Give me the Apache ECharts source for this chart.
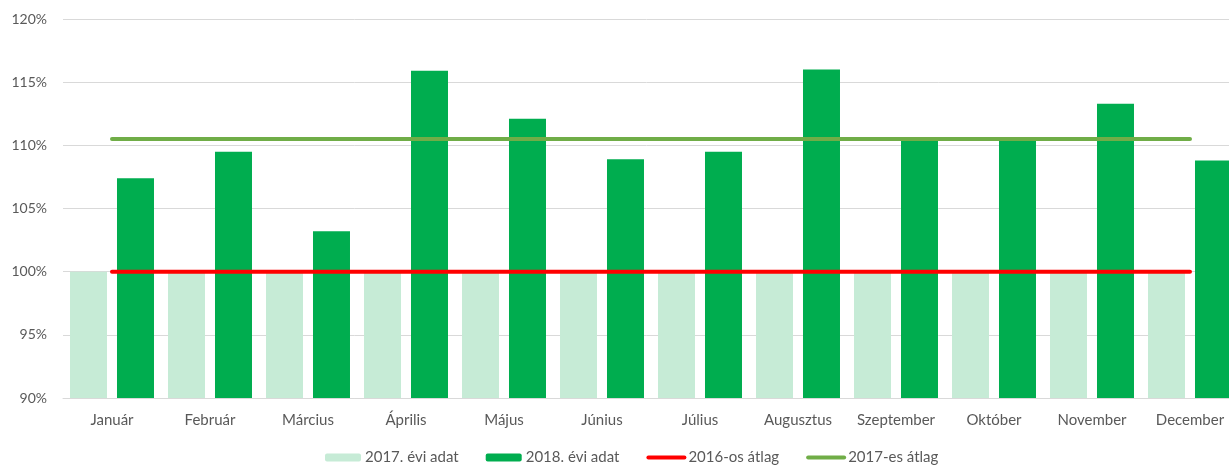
<!DOCTYPE html>
<html>
<head>
<meta charset="utf-8">
<script src="https://cdn.jsdelivr.net/npm/echarts@6/dist/echarts.min.js"></script>
<style>
  html, body { margin: 0; padding: 0; background: #fff; }
  #chart { width: 1229px; height: 465px; }
</style>
</head>
<body>
<div id="chart"></div>
<script>
const months = ['Január', 'Február', 'Március', 'Április', 'Május', 'Június',
  'Július', 'Augusztus', 'Szeptember', 'Október', 'November', 'December'];
const data2017 = [100, 100, 100, 100, 100, 100, 100, 100, 100, 100, 100, 100];
const data2018 = [107.4, 109.5, 103.2, 115.9, 112.1, 108.9, 109.5, 116.0, 110.4, 110.4, 113.3, 108.8];
const avg2016 = [100, 100, 100, 100, 100, 100, 100, 100, 100, 100, 100, 100];
const avg2017 = [110.5, 110.5, 110.5, 110.5, 110.5, 110.5, 110.5, 110.5, 110.5, 110.5, 110.5, 110.5];

const font = 'Lato, "Noto Sans", sans-serif';
const myChart = echarts.init(document.getElementById('chart'));
const option = {
  animation: false,
  textStyle: { fontFamily: font },
  grid: {
    left: 63,
    right: -10,
    top: 19,
    bottom: 67,
    outerBoundsMode: 'none'
  },
  legend: {
    top: 450,
    left: 325,
    padding: 0,
    itemWidth: 36,
    itemHeight: 8,
    itemGap: 27,
    textStyle: { color: '#595959', fontSize: 15, fontFamily: font, padding: [0, 0, 0, -1] },
    data: [
      '2017. évi adat',
      '2018. évi adat',
      { name: '2016-os átlag', itemStyle: { opacity: 0 }, lineStyle: { width: 4 } },
      { name: '2017-es átlag', itemStyle: { opacity: 0 }, lineStyle: { width: 4 } }
    ]
  },
  xAxis: {
    type: 'category',
    data: months,
    axisTick: { show: false },
    axisLine: { lineStyle: { color: '#d9d9d9' } },
    axisLabel: { color: '#595959', fontSize: 15, margin: 15, interval: 0 }
  },
  yAxis: {
    type: 'value',
    min: 90,
    max: 120,
    interval: 5,
    axisLabel: {
      color: '#595959',
      fontSize: 14,
      margin: 16,
      formatter: '{value}%'
    },
    splitLine: { lineStyle: { color: '#d9d9d9' } }
  },
  series: [
    {
      name: '2017. évi adat',
      type: 'bar',
      barWidth: 37,
      barGap: '27%',
      itemStyle: { color: '#c6ebd6' },
      data: data2017
    },
    {
      name: '2018. évi adat',
      type: 'bar',
      barWidth: 37,
      itemStyle: { color: '#00ad4f' },
      data: data2018
    },
    {
      name: '2016-os átlag',
      type: 'line',
      symbol: 'none',
      lineStyle: { color: '#ff0000', width: 4, cap: 'round' },
      itemStyle: { color: '#ff0000' },
      z: 5,
      data: avg2016
    },
    {
      name: '2017-es átlag',
      type: 'line',
      symbol: 'none',
      lineStyle: { color: '#70ad47', width: 4, cap: 'round' },
      itemStyle: { color: '#70ad47' },
      z: 5,
      data: avg2017
    }
  ]
};
myChart.setOption(option);
</script>
</body>
</html>
